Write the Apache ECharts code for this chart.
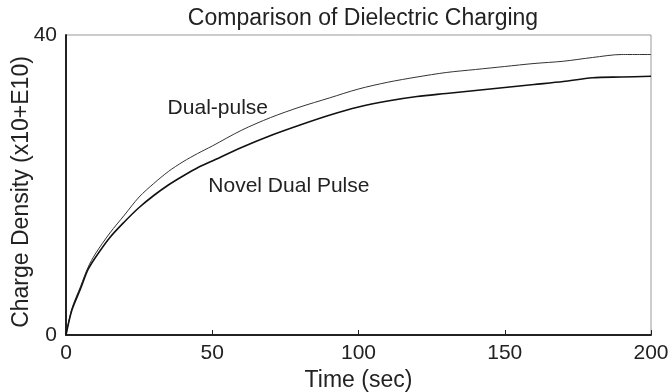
<!DOCTYPE html>
<html>
<head>
<meta charset="utf-8">
<script src="https://cdn.jsdelivr.net/npm/echarts@6/dist/echarts.min.js"></script>
<style>
  html, body { margin: 0; padding: 0; background: #fff; }
  #main { width: 670px; height: 392px; }
</style>
</head>
<body>
<div id="main"></div>
<script>
// time samples (sec)
var times = [0, 2, 5, 7.5, 10, 15, 20, 25, 30, 35, 40, 45, 50, 60, 70, 80, 90, 100,
             110, 120, 130, 140, 150, 160, 170, 180, 190, 200];
// Dual-pulse charge density (x10+E10)
var dualPulse = [0, 3.5, 6.5, 9, 10.8, 13.6, 16, 18.4, 20.2, 21.8, 23.1, 24.2, 25.2, 27.3, 29, 30.4, 31.6, 32.8,
                 33.7, 34.4, 35.0, 35.4, 35.8, 36.2, 36.5, 37.0, 37.4, 37.4];
// Novel Dual Pulse charge density
var novelPulse = [0, 3.3, 6.2, 8.7, 10.3, 13, 15.1, 17, 18.6, 20, 21.2, 22.3, 23.2, 25, 26.6, 28, 29.3, 30.4,
                  31.2, 31.8, 32.2, 32.6, 33.0, 33.4, 33.8, 34.3, 34.4, 34.5];
// curve labels, placed in data units
var dualLabelAt = [51.9, 30.2];
var novelLabelAt = [76.2, 19.8];

function pairs(xs, ys) {
  return xs.map(function (x, i) { return [x, ys[i]]; });
}

var font = "'Liberation Sans', Arial, Helvetica, sans-serif";
var myChart = echarts.init(document.getElementById("main"));
var option = {
  animation: false,
  textStyle: { fontFamily: font },
  title: {
    text: "Comparison of Dielectric Charging",
    left: 358,
    textAlign: "center",
    top: 2,
    textStyle: { fontSize: 23, fontWeight: "normal", color: "#222", fontFamily: font }
  },
  grid: {
    left: 66, right: 19, top: 35, bottom: 57,
    outerBoundsMode: "none",
    containLabel: false,
    show: true, borderColor: "#999", borderWidth: 1
  },
  xAxis: {
    type: "value",
    min: 0, max: 200, interval: 50,
    name: "Time (sec)",
    nameLocation: "middle",
    nameGap: 33,
    nameTextStyle: { fontSize: 23, color: "#222" },
    axisLine: { lineStyle: { color: "#222", width: 2 } },
    axisTick: { show: true, inside: true, length: 5, lineStyle: { color: "#222" } },
    axisLabel: { fontSize: 21, color: "#222", margin: 8 },
    splitLine: { show: false }
  },
  yAxis: {
    type: "value",
    min: 0, max: 40, interval: 40,
    name: "Charge Density (x10+E10)",
    nameLocation: "middle",
    nameGap: 33,
    nameMoveOverlap: false,
    nameTextStyle: { fontSize: 23, color: "#222", padding: [0, 14, 0, 0] },
    axisLine: { show: true, lineStyle: { color: "#222", width: 2 } },
    axisTick: { show: false },
    axisLabel: { fontSize: 21, color: "#222", margin: 9 },
    splitLine: { show: false }
  },
  series: [
    {
      name: "Dual-pulse",
      type: "line",
      data: pairs(times, dualPulse),
      showSymbol: false,
      smooth: 0.3,
      lineStyle: { color: "#333", width: 1 },
      markPoint: {
        symbol: "circle", symbolSize: 0,
        label: { show: true, position: "inside", fontSize: 21, color: "#222", formatter: "Dual-pulse" },
        data: [{ coord: dualLabelAt }]
      }
    },
    {
      name: "Novel Dual Pulse",
      type: "line",
      data: pairs(times, novelPulse),
      showSymbol: false,
      smooth: 0.3,
      lineStyle: { color: "#111", width: 1.6 },
      markPoint: {
        symbol: "circle", symbolSize: 0,
        label: { show: true, position: "inside", fontSize: 21, color: "#222", formatter: "Novel Dual Pulse" },
        data: [{ coord: novelLabelAt }]
      }
    }
  ]
};
myChart.setOption(option);
</script>
</body>
</html>
